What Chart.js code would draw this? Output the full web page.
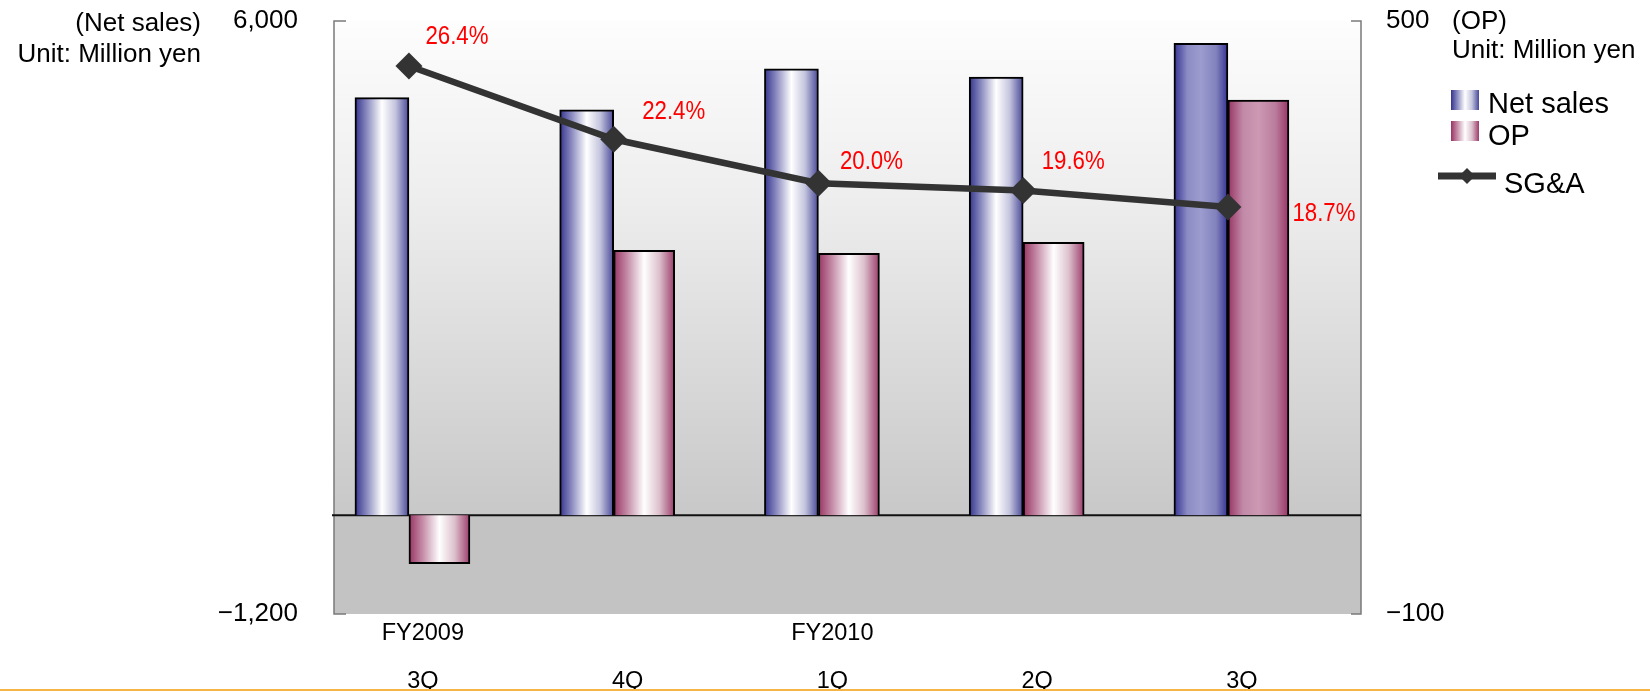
<!DOCTYPE html>
<html>
<head>
<meta charset="utf-8">
<title>Net sales, OP and SG&amp;A ratio</title>
<script src="https://cdn.jsdelivr.net/npm/chart.js@4/dist/chart.umd.min.js"></script>
<style>
  html, body { margin: 0; padding: 0; background: #ffffff; }
  #wrap { width: 1650px; height: 691px; }
</style>
</head>
<body>
<div id="wrap"><canvas id="chart" width="1650" height="691"></canvas></div>
<script>
// Quarters shown on the x axis (fiscal-year caption + quarter)
const fiscalYears = ['FY2009', '', 'FY2010', '', ''];
const quarters = ['3Q', '4Q', '1Q', '2Q', '3Q'];

// Million yen
const netSales = [5070, 4920, 5420, 5320, 5730];
const operatingProfit = [-49, 268, 265, 276, 420];

// SG&A ratio, %
const sgaRatio = [26.4, 22.4, 20.0, 19.6, 18.7];

// Axis ranges and the tick values printed on them
const salesTicks = [-1200, 6000];
const opTicks = [-100, 500];

const FONT = "'Liberation Sans', Arial, Helvetica, sans-serif";
const highlightIndex = 4;   // latest quarter is drawn with a deeper fill

const fills = {
  sales: {
    normal: [[0, '#34348e'], [0.22, '#8a8ac0'], [0.5, '#ffffff'], [0.75, '#c4c4de'], [1, '#484898']],
    strong: [[0, '#333394'], [0.25, '#8c8cc4'], [0.5, '#9c9cd0'], [0.78, '#8282bc'], [1, '#333394']]
  },
  op: {
    normal: [[0, '#983462'], [0.22, '#c48aa6'], [0.5, '#ffffff'], [0.75, '#dcc0cc'], [1, '#9c3c6a']],
    strong: [[0, '#983464'], [0.25, '#c28aa8'], [0.5, '#cc99b3'], [0.78, '#ba7c9c'], [1, '#983464']]
  }
};

function fmt(v) {
  const s = Math.abs(v).toLocaleString('en-US');
  return (v < 0 ? '\u2212' : '') + s;
}

// Plot background, axis lines and zero line
const frame = {
  id: 'frame',
  beforeDatasetsDraw(chart) {
    const { ctx, chartArea: a, scales } = chart;
    const zero = scales.y.getPixelForValue(0);
    ctx.save();
    const g = ctx.createLinearGradient(0, a.top, 0, zero);
    g.addColorStop(0, '#fdfdfd');
    g.addColorStop(0.35, '#eeeeee');
    g.addColorStop(1, '#c8c8c8');
    ctx.fillStyle = g;
    ctx.fillRect(a.left, a.top, a.right - a.left, zero - a.top);
    ctx.fillStyle = '#c3c3c3';
    ctx.fillRect(a.left, zero, a.right - a.left, a.bottom - zero);

    ctx.strokeStyle = '#7a7a7a';
    ctx.lineWidth = 1.5;
    ctx.beginPath();
    ctx.moveTo(a.left + 12, a.top); ctx.lineTo(a.left, a.top);
    ctx.lineTo(a.left, a.bottom); ctx.lineTo(a.left + 12, a.bottom);
    ctx.moveTo(a.right - 10, a.top); ctx.lineTo(a.right, a.top);
    ctx.lineTo(a.right, a.bottom); ctx.lineTo(a.right - 10, a.bottom);
    ctx.stroke();

    ctx.strokeStyle = '#111111';
    ctx.lineWidth = 2;
    ctx.beginPath();
    ctx.moveTo(a.left - 2, zero); ctx.lineTo(a.right, zero);
    ctx.stroke();
    ctx.restore();

    // cylinder-style shading across each bar
    chart.data.datasets.forEach((ds, di) => {
      if (ds.type === 'line') return;
      const set = fills[ds.fillKey];
      const meta = chart.getDatasetMeta(di);
      meta.data.forEach((el, i) => {
        const { x, width } = el.getProps(['x', 'width'], true);
        const grad = ctx.createLinearGradient(x - width / 2, 0, x + width / 2, 0);
        (i === highlightIndex ? set.strong : set.normal).forEach(([o, c]) => grad.addColorStop(o, c));
        el.options = Object.assign({}, el.options, { backgroundColor: grad });
      });
    });
  }
};

// Ratio labels beside the SG&A markers
const labelOffsets = [[48, -29], [60, -27], [53, -21], [50, -29], [96, 7]];
const ratioLabels = {
  id: 'ratioLabels',
  afterDatasetsDraw(chart) {
    const { ctx } = chart;
    const idx = chart.data.datasets.findIndex(d => d.type === 'line');
    const meta = chart.getDatasetMeta(idx);
    ctx.save();
    ctx.fillStyle = '#ff0000';
    ctx.font = '26px ' + FONT;
    ctx.textAlign = 'center';
    ctx.textBaseline = 'middle';
    meta.data.forEach((pt, i) => {
      const [dx, dy] = labelOffsets[i];
      ctx.save();
      ctx.translate(pt.x + dx, pt.y + dy);
      ctx.scale(0.855, 1);
      ctx.fillText(sgaRatio[i].toFixed(1) + '%', 0, 0);
      ctx.restore();
    });
    ctx.restore();
  }
};

// Axis captions, legend and the footer rule
const captions = {
  id: 'captions',
  afterDraw(chart) {
    const { ctx } = chart;
    ctx.save();
    ctx.fillStyle = '#000000';
    ctx.font = '26px ' + FONT;
    ctx.textBaseline = 'middle';
    ctx.textAlign = 'right';
    ctx.fillText('(Net sales)', 201, 24);
    ctx.fillText('Unit: Million yen', 201, 55);
    ctx.textAlign = 'left';
    ctx.fillText('(OP)', 1452, 22);
    ctx.fillText('Unit: Million yen', 1452, 51);

    // legend
    const sw = (y0, stops) => {
      const g = ctx.createLinearGradient(1451, 0, 1479, 0);
      stops.forEach(([o, c]) => g.addColorStop(o, c));
      ctx.fillStyle = g;
      ctx.fillRect(1451, y0, 28, 20);
    };
    sw(90, fills.sales.normal);
    sw(121, fills.op.normal);
    ctx.fillStyle = '#000000';
    ctx.font = '29px ' + FONT;
    ctx.textBaseline = 'alphabetic';
    ctx.fillText('Net sales', 1488, 113);
    ctx.fillText('OP', 1488, 145);

    ctx.strokeStyle = '#333333';
    ctx.lineWidth = 7;
    ctx.beginPath();
    ctx.moveTo(1438, 176); ctx.lineTo(1496, 176);
    ctx.stroke();
    ctx.fillStyle = '#333333';
    ctx.beginPath();
    ctx.moveTo(1467, 168); ctx.lineTo(1475, 176); ctx.lineTo(1467, 184); ctx.lineTo(1459, 176);
    ctx.closePath();
    ctx.fill();
    ctx.fillStyle = '#000000';
    ctx.fillText('SG&A', 1504, 193);

    ctx.fillStyle = '#f7b548';
    ctx.fillRect(0, 689, 1650, 2);
    ctx.restore();
  }
};

const xy = arr => arr.map((v, i) => ({ x: i, y: v }));
const noPad = s => { s.paddingTop = 0; s.paddingBottom = 0; s.paddingLeft = 0; s.paddingRight = 0; };

new Chart(document.getElementById('chart'), {
  data: {
    datasets: [
      {
        type: 'line', label: 'SG&A', data: xy(sgaRatio), yAxisID: 'yPct',
        borderColor: '#333333', borderWidth: 6.5, tension: 0,
        pointStyle: 'rectRot', pointRadius: 13.5, pointBackgroundColor: '#333333',
        pointBorderWidth: 0, order: 0
      },
      {
        type: 'bar', label: 'Net sales', data: xy(netSales), yAxisID: 'y', fillKey: 'sales',
        backgroundColor: '#8888c0', borderColor: '#000000', borderWidth: 2,
        barThickness: 54, order: 1
      },
      {
        type: 'bar', label: 'OP', data: xy(operatingProfit), yAxisID: 'y1', fillKey: 'op',
        backgroundColor: '#c090a8', borderColor: '#000000', borderWidth: 2,
        barThickness: 61, order: 2
      }
    ]
  },
  options: {
    responsive: false,
    animation: false,
    events: [],
    layout: { padding: { top: 21, left: 0, right: 0, bottom: 0 } },
    plugins: { legend: { display: false }, tooltip: { enabled: false } },
    scales: {
      x: {
        type: 'linear', min: -0.366, max: 4.65, offset: false,
        grid: { display: false, drawTicks: false }, border: { display: false },
        afterBuildTicks: s => { s.ticks = quarters.map((q, i) => ({ value: i + 0.068 })); },
        afterFit: s => { s.height = 77; noPad(s); },
        ticks: {
          autoSkip: false, maxRotation: 0, padding: 7.5, color: '#000000',
          font: { family: FONT, size: 23.5, lineHeight: '24px' },
          callback: v => { const i = Math.round(v); return [fiscalYears[i], '', quarters[i]]; }
        }
      },
      y: {
        position: 'left', min: salesTicks[0], max: salesTicks[1],
        grid: { display: false, drawTicks: false }, border: { display: false },
        afterBuildTicks: s => { s.ticks = salesTicks.map(v => ({ value: v })); },
        afterFit: s => { s.width = 334; noPad(s); },
        ticks: { padding: 36, color: '#000000', font: { family: FONT, size: 26 }, callback: v => fmt(v) }
      },
      y1: {
        position: 'right', min: opTicks[0], max: opTicks[1],
        grid: { display: false, drawTicks: false }, border: { display: false },
        afterBuildTicks: s => { s.ticks = opTicks.map(v => ({ value: v })); },
        afterFit: s => { s.width = 289; noPad(s); },
        ticks: { padding: 25, color: '#000000', font: { family: FONT, size: 26 }, callback: v => fmt(v) }
      },
      yPct: { display: false, min: -3.53, max: 28.86 }
    }
  },
  plugins: [frame, ratioLabels, captions]
});
</script>
</body>
</html>
